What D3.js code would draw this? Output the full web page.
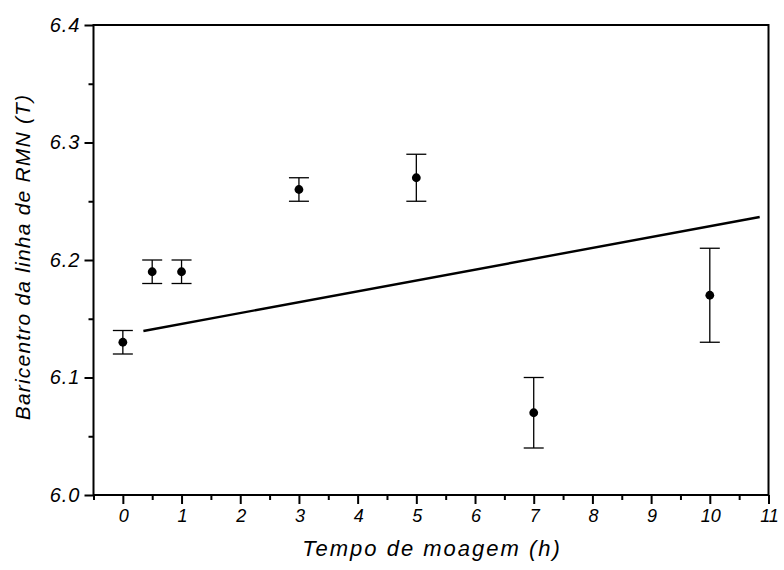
<!DOCTYPE html>
<html>
<head>
<meta charset="utf-8">
<script src="https://cdn.jsdelivr.net/npm/d3@7"></script>
<style>
  html, body { margin: 0; padding: 0; background: #fff; }
  svg { display: block; }
  text { font-family: "Liberation Sans", Arial, sans-serif; font-style: italic; fill: #000; }
</style>
</head>
<body>
<svg id="chart" width="784" height="570"></svg>
<script>
// Milling time (h)
const tempo = [0, 0.5, 1, 3, 5, 7, 10];
// NMR line barycentre (T)
const baricentro = [6.13, 6.19, 6.19, 6.26, 6.27, 6.07, 6.17];
// Error bar bounds
const erroInf = [6.12, 6.18, 6.18, 6.25, 6.25, 6.04, 6.13];
const erroSup = [6.14, 6.20, 6.20, 6.27, 6.29, 6.10, 6.21];
// Linear fit drawn over the data
const ajusteX = [0.35, 10.85];
const ajusteY = [6.1396, 6.2366];
// Axis ticks
const xTicks = [0, 1, 2, 3, 4, 5, 6, 7, 8, 9, 10, 11];
const yTicks = [6.0, 6.1, 6.2, 6.3, 6.4];

const svg = d3.select("#chart");
const mLeft = 93.5, mRight = 768.5, mTop = 25, mBottom = 495;

const x = d3.scaleLinear().domain([-0.5, 11]).range([mLeft, mRight]);
const y = d3.scaleLinear().domain([6.0, 6.4]).range([mBottom, mTop]);

// Minor ticks
const xMinor = d3.range(-0.5, 11, 1);
const yMinor = [6.05, 6.15, 6.25, 6.35];

const g = svg.append("g");

// x axis
const xAxis = d3.axisBottom(x).tickValues(xTicks).tickFormat(d3.format("d"))
  .tickSize(9).tickPadding(5);
const xa = g.append("g").attr("transform", `translate(0,${mBottom})`).call(xAxis);
xa.select(".domain").remove();
xa.selectAll("line").attr("stroke", "#000").attr("stroke-width", 2);
xa.selectAll("text").attr("font-size", 18).attr("font-family", "Liberation Sans, Arial, sans-serif")
  .attr("font-style", "italic").attr("dx", "0.5");
const xm = g.append("g").attr("transform", `translate(0,${mBottom})`)
  .call(d3.axisBottom(x).tickValues(xMinor).tickFormat("").tickSize(5));
xm.select(".domain").remove();
xm.selectAll("line").attr("stroke", "#000").attr("stroke-width", 2);

// y axis
const yAxis = d3.axisLeft(y).tickValues(yTicks).tickFormat(d3.format(".1f"))
  .tickSize(9).tickPadding(4);
const ya = g.append("g").attr("transform", `translate(${mLeft},0)`).call(yAxis);
ya.select(".domain").remove();
ya.selectAll("line").attr("stroke", "#000").attr("stroke-width", 2);
ya.selectAll("text").attr("font-size", 20).attr("font-family", "Liberation Sans, Arial, sans-serif")
  .attr("font-style", "italic").attr("letter-spacing", 1);
const ym = g.append("g").attr("transform", `translate(${mLeft},0)`)
  .call(d3.axisLeft(y).tickValues(yMinor).tickFormat("").tickSize(5));
ym.select(".domain").remove();
ym.selectAll("line").attr("stroke", "#000").attr("stroke-width", 2);

// frame
g.append("rect")
  .attr("x", mLeft).attr("y", mTop)
  .attr("width", mRight - mLeft).attr("height", mBottom - mTop)
  .attr("fill", "none").attr("stroke", "#000").attr("stroke-width", 2);

// fit line
g.append("line")
  .attr("x1", x(ajusteX[0])).attr("y1", y(ajusteY[0]))
  .attr("x2", x(ajusteX[1])).attr("y2", y(ajusteY[1]))
  .attr("stroke", "#000").attr("stroke-width", 2.4);

// error bars
const capW = 10;
const eb = g.append("g").selectAll("g").data(tempo).join("g");
eb.append("line")
  .attr("x1", (d) => x(d)).attr("x2", (d) => x(d))
  .attr("y1", (d, i) => y(erroInf[i])).attr("y2", (d, i) => y(erroSup[i]))
  .attr("stroke", "#000").attr("stroke-width", 1.3);
eb.append("line")
  .attr("x1", (d) => x(d) - capW).attr("x2", (d) => x(d) + capW)
  .attr("y1", (d, i) => y(erroSup[i])).attr("y2", (d, i) => y(erroSup[i]))
  .attr("stroke", "#000").attr("stroke-width", 1.3);
eb.append("line")
  .attr("x1", (d) => x(d) - capW).attr("x2", (d) => x(d) + capW)
  .attr("y1", (d, i) => y(erroInf[i])).attr("y2", (d, i) => y(erroInf[i]))
  .attr("stroke", "#000").attr("stroke-width", 1.3);

// points
g.append("g").selectAll("circle").data(tempo).join("circle")
  .attr("cx", (d) => x(d)).attr("cy", (d, i) => y(baricentro[i]))
  .attr("r", 4.4).attr("fill", "#000");

// axis titles
svg.append("text")
  .attr("x", 432).attr("y", 556)
  .attr("text-anchor", "middle").attr("font-size", 22)
  .attr("letter-spacing", 2)
  .text("Tempo de moagem (h)");

svg.append("text")
  .attr("transform", `translate(30,257) rotate(-90)`)
  .attr("text-anchor", "middle").attr("font-size", 21)
  .attr("letter-spacing", 1.2)
  .text("Baricentro da linha de RMN (T)");
</script>
</body>
</html>
